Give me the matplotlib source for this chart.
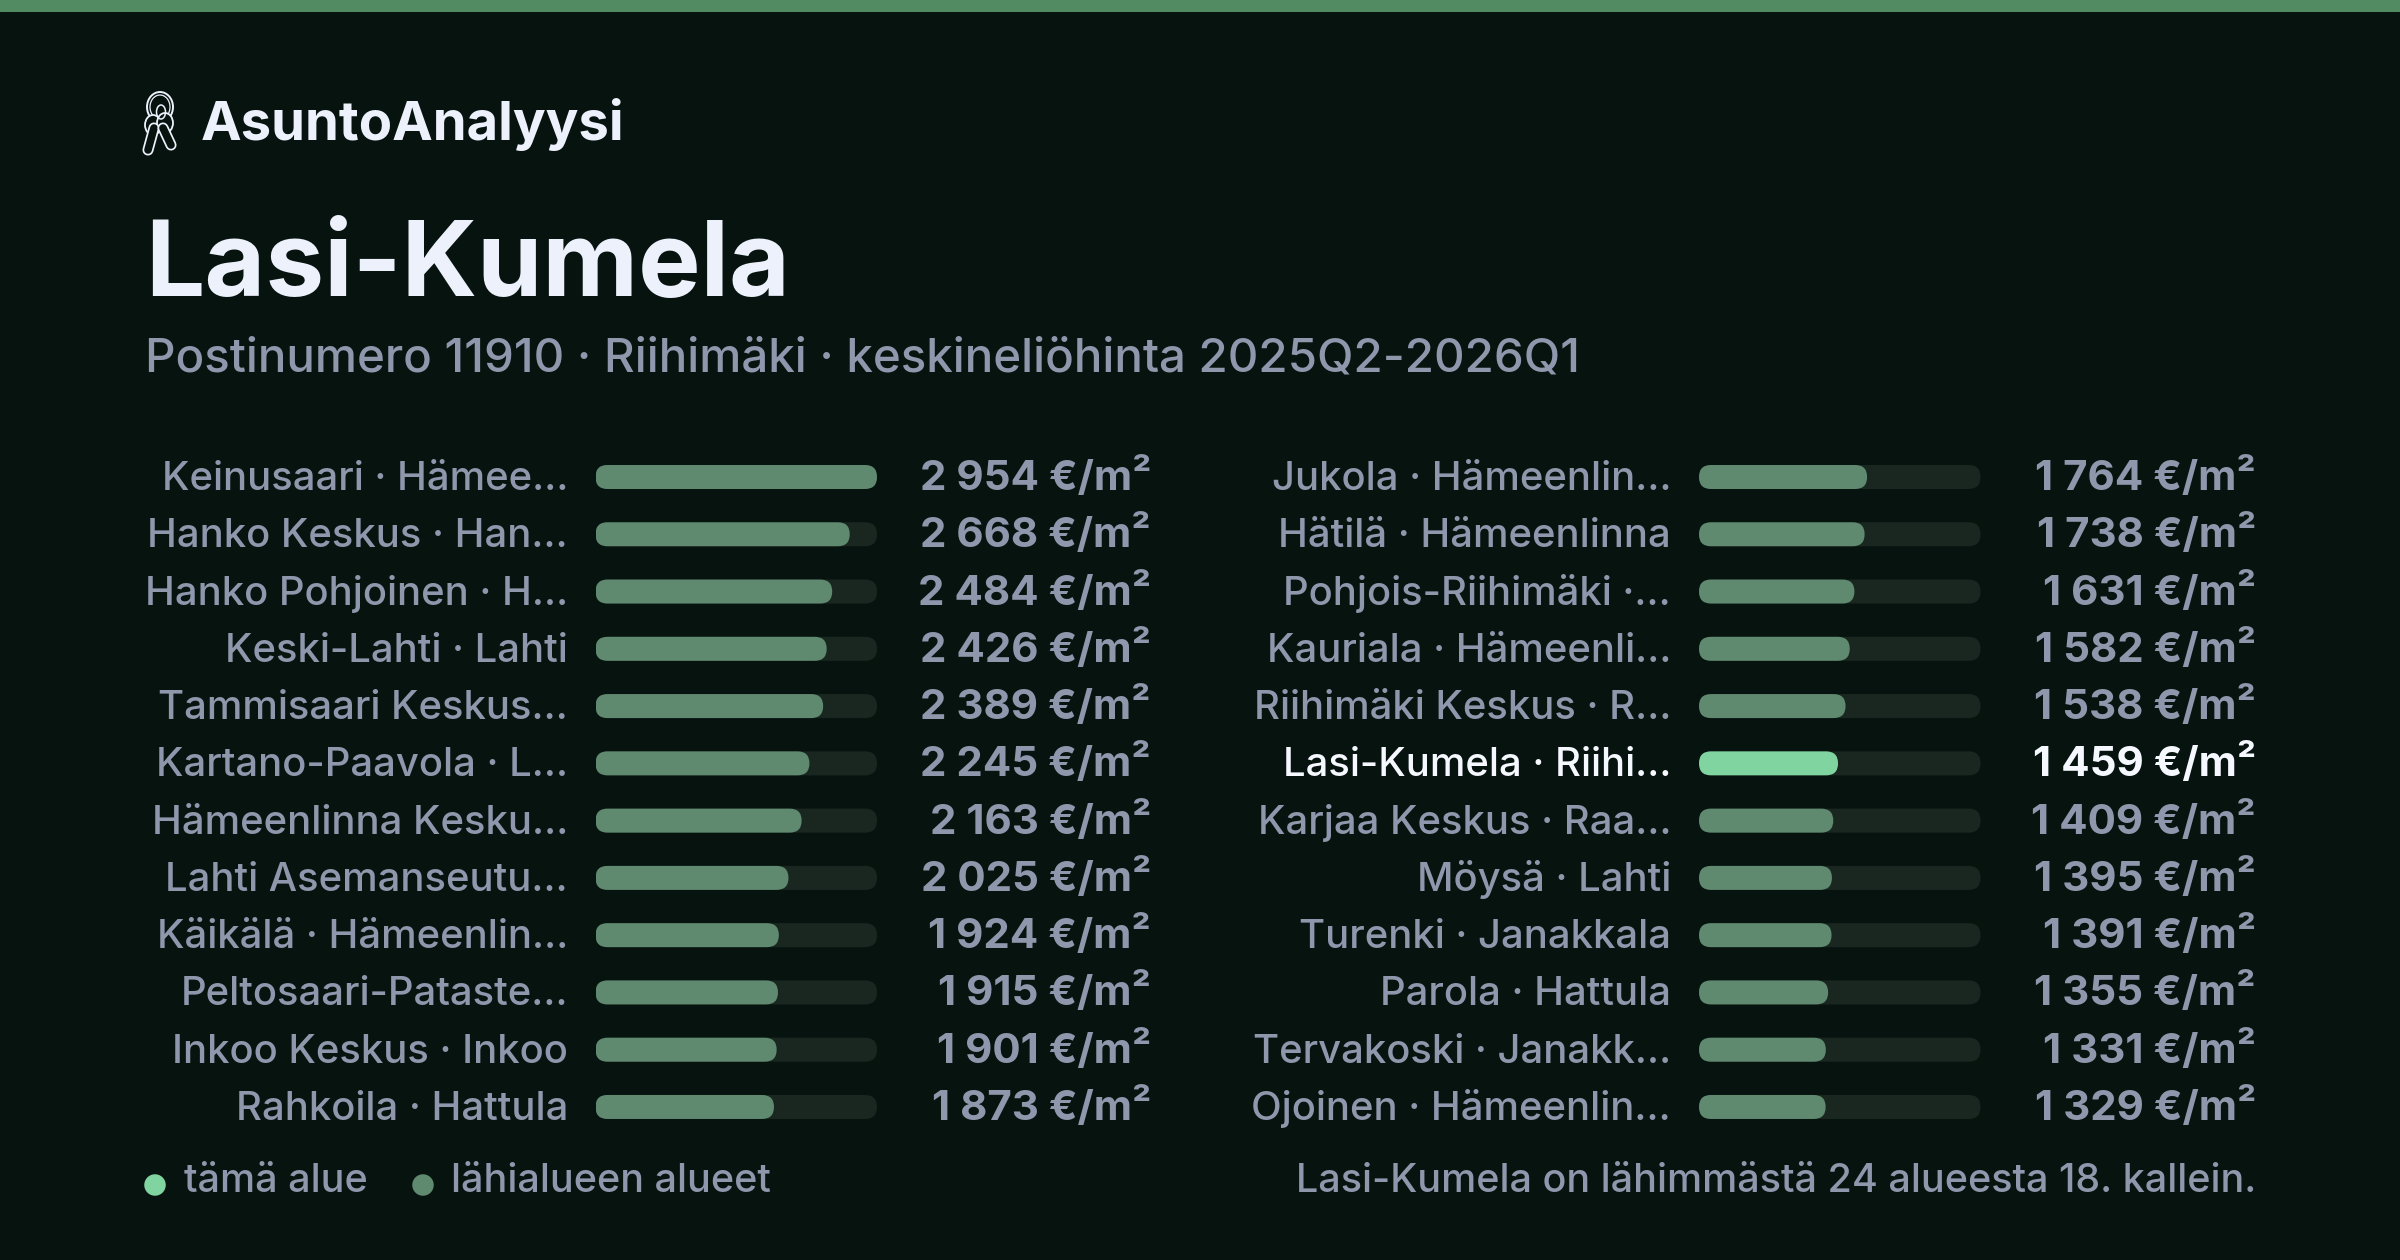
import matplotlib
matplotlib.use('Agg')
import matplotlib.pyplot as plt
from matplotlib.patches import FancyBboxPatch, Ellipse, Rectangle

plt.rcParams['font.family'] = ['Inter', 'DejaVu Sans']

left_names = ['Keinusaari · Hämee…', 'Hanko Keskus · Han…', 'Hanko Pohjoinen · H…', 'Keski-Lahti · Lahti',
              'Tammisaari Keskus…', 'Kartano-Paavola · L…', 'Hämeenlinna Kesku…', 'Lahti Asemanseutu…',
              'Käikälä · Hämeenlin…', 'Peltosaari-Pataste…', 'Inkoo Keskus · Inkoo', 'Rahkoila · Hattula']
left_values = [2954, 2668, 2484, 2426, 2389, 2245, 2163, 2025, 1924, 1915, 1901, 1873]
right_names = ['Jukola · Hämeenlin…', 'Hätilä · Hämeenlinna', 'Pohjois-Riihimäki ·…', 'Kauriala · Hämeenli…',
               'Riihimäki Keskus · R…', 'Lasi-Kumela · Riihi…', 'Karjaa Keskus · Raa…', 'Möysä · Lahti',
               'Turenki · Janakkala', 'Parola · Hattula', 'Tervakoski · Janakk…', 'Ojoinen · Hämeenlin…']
right_values = [1764, 1738, 1631, 1582, 1538, 1459, 1409, 1395, 1391, 1355, 1331, 1329]
this_area = 'Lasi-Kumela · Riihi…'

BG = '#07130f'
BAND = '#528a62'
TRACK = '#1a2721'
BAR = '#5f8a70'
HIGHLIGHT = '#7fd4a0'
GREY = '#8f97ad'
WHITE = '#edf1fc'

W, H = 2400, 1260
ROW = 57.27
BAR_W = 281.5


def pt(px):
    return px * 0.72


fig = plt.figure(figsize=(24, 12.6), dpi=100, facecolor=BG)

# page layer in pixels
page = fig.add_axes([0, 0, 1, 1])
page.set_xlim(0, W)
page.set_ylim(H, 0)
page.axis('off')
page.add_patch(Rectangle((0, 0), W, 12, color=BAND, lw=0))


def draw_column(names, values, x0, label_x, value_x):
    top = 477 - ROW / 2
    ax = fig.add_axes([x0 / W, 1 - (top + 12 * ROW) / H, BAR_W / W, 12 * ROW / H])
    ax.set_xlim(0, max(left_values))
    ax.set_ylim(11.5, -0.5)
    ax.axis('off')
    xr = 12 * max(left_values) / BAR_W
    yr = 12 / ROW
    for i, (n, v) in enumerate(zip(names, values)):
        for width, col in ((max(left_values), TRACK), (v, HIGHLIGHT if n == this_area else BAR)):
            ax.add_patch(FancyBboxPatch((0, i - yr), width, 2 * yr, boxstyle=f'round,pad=0,rounding_size={xr}',
                                        mutation_aspect=yr / xr, fc=col, ec='none', lw=0))
        col = '#f6f8ff' if n == this_area else GREY
        y = 477 + i * ROW + 13
        page.text(label_x, y, n, ha='right', va='baseline', color=col, fontsize=pt(40), fontweight='medium')
        page.text(value_x, y, f'{v:,}'.replace(',', ' ') + ' €/m²', ha='right', va='baseline',
                  color=col, fontsize=pt(42), fontweight='bold')


draw_column(left_names, left_values, 595.5, 568, 1151)
draw_column(right_names, right_values, 1699, 1671, 2256)

# header
page.text(201, 140, 'AsuntoAnalyysi', color=WHITE, fontsize=pt(54.5), fontweight='bold', va='baseline')
page.text(145, 296, 'Lasi-Kumela', color=WHITE, fontsize=pt(105), fontweight='bold', va='baseline')
page.text(145, 372, 'Postinumero 11910 · Riihimäki · keskineliöhinta 2025Q2-2026Q1', color=GREY,
          fontsize=pt(47.5), va='baseline', fontweight='medium')

# keys icon
page.add_patch(Ellipse((160, 107), 26, 30, fc='none', ec=WHITE, lw=1.4))
page.add_patch(Ellipse((160, 107), 20, 24, fc='none', ec=WHITE, lw=0.9))
for xs, ys in (((154, 148), (128, 150)), ((163, 171), (128, 145))):
    page.plot(xs, ys, color=WHITE, lw=8, solid_capstyle='round')
    page.plot(xs, ys, color=BG, lw=5.5, solid_capstyle='round')
page.add_patch(Ellipse((153, 125), 16, 20, fc=BG, ec=WHITE, lw=1.3))
page.add_patch(Ellipse((165, 123), 16, 20, fc=BG, ec=WHITE, lw=1.3))
page.add_patch(Ellipse((161, 112), 9, 14, fc='none', ec=WHITE, lw=1.1))

# legend and footer
page.add_patch(Ellipse((155, 1185), 21.5, 21.5, fc=HIGHLIGHT, ec='none'))
page.add_patch(Ellipse((423, 1185), 21.5, 21.5, fc=BAR, ec='none'))
page.text(184, 1192, 'tämä alue', color=GREY, fontsize=pt(39.5), va='baseline', fontweight='medium')
page.text(451, 1192, 'lähialueen alueet', color=GREY, fontsize=pt(39.5), va='baseline', fontweight='medium')
page.text(2256, 1192, 'Lasi-Kumela on lähimmästä 24 alueesta 18. kallein.', color=GREY, fontsize=pt(39.5),
          ha='right', va='baseline', fontweight='medium')

fig.savefig('out.png', dpi=100, facecolor=BG)
